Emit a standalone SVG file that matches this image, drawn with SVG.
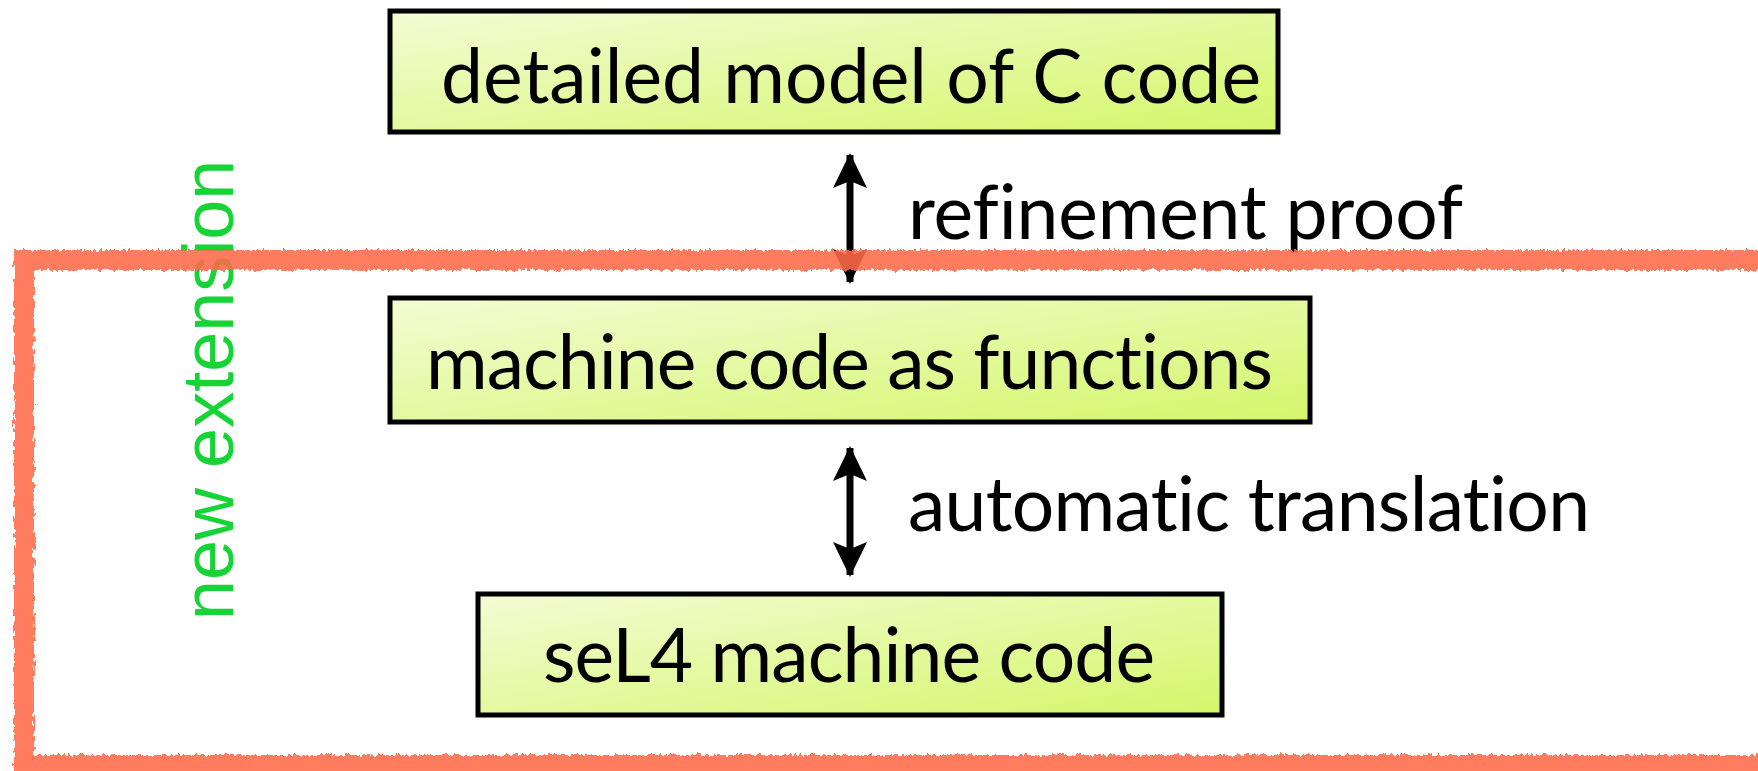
<svg xmlns="http://www.w3.org/2000/svg" width="1758" height="771" viewBox="0 0 1758 771">
  <style>
    .box { stroke: #000; stroke-width: 5; fill: url(#boxFill); }
    .label { font-family: Lato, "Open Sans", "Liberation Sans", sans-serif; font-size: 75px; fill: #000; font-variant-ligatures: none; font-feature-settings: "liga" 0, "clig" 0, "dlig" 0; letter-spacing: 0.01px; }
    .conn { stroke: #000; stroke-width: 7; fill: none; marker-start: url(#head); marker-end: url(#head); }
    .scope { fill: none; stroke: #ff6a48; stroke-width: 20; opacity: 0.88; filter: url(#chalk); }
    .tag { font-family: "Liberation Sans", Arial, sans-serif; font-size: 72px; fill: #17d436; }
  </style>
  <defs>
    <linearGradient id="boxFill" x1="0" y1="0" x2="1" y2="1">
      <stop offset="0" stop-color="#f4fbd4"/>
      <stop offset="1" stop-color="#d3f76a"/>
    </linearGradient>
    <!-- barbed arrowhead shared by both ends of each connector -->
    <marker id="head" viewBox="0 0 35 34" refX="33" refY="17" markerWidth="35" markerHeight="34" markerUnits="userSpaceOnUse" orient="auto-start-reverse">
      <path d="M35 17 L0 0 L7 17 L0 34 Z" fill="#000"/>
    </marker>
    <!-- rough chalk edge for the highlighted region -->
    <filter id="chalk" x="-5%" y="-5%" width="110%" height="110%">
      <feTurbulence type="fractalNoise" baseFrequency="0.35 0.12" numOctaves="2" seed="4" result="noise"/>
      <feDisplacementMap in="SourceGraphic" in2="noise" scale="7" xChannelSelector="R" yChannelSelector="G"/>
    </filter>
  </defs>

  <g id="node-c-model">
    <rect class="box" x="390" y="11" width="888" height="121"/>
    <text class="label" x="441" y="103" textLength="820">detailed model of C code</text>
  </g>

  <g id="node-machine-functions">
    <rect class="box" x="390" y="298" width="920" height="124"/>
    <text class="label" x="426" y="389" textLength="847">machine code as functions</text>
  </g>

  <g id="node-sel4-binary">
    <rect class="box" x="478" y="594" width="744" height="121"/>
    <text class="label" x="543" y="682" textLength="612">seL4 machine code</text>
  </g>

  <g id="connectors">
    <line class="conn" x1="850" y1="155" x2="850" y2="282"/>
    <text class="label" x="908" y="239" textLength="555">refinement proof</text>
    <line class="conn" x1="850" y1="448" x2="850" y2="575"/>
    <text class="label" x="908" y="531" textLength="682">automatic translation</text>
  </g>

  <g id="extension-scope">
    <text class="tag" transform="translate(233,620) rotate(-90)">new extension</text>
    <rect class="scope" x="24" y="260" width="1780" height="505"/>
  </g>
</svg>
